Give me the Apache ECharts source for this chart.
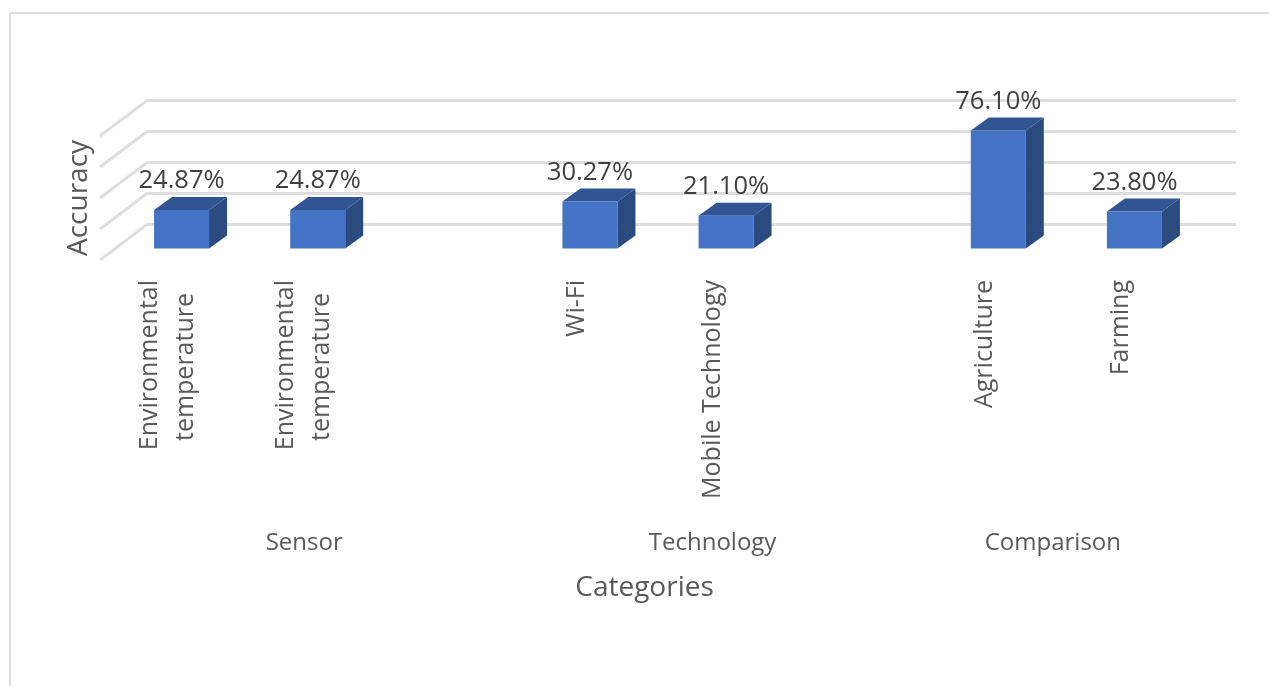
<!DOCTYPE html>
<html>
<head>
<meta charset="utf-8">
<title>Accuracy by category</title>
<script src="https://cdn.jsdelivr.net/npm/echarts@6/dist/echarts.min.js"></script>
<style>
html,body{margin:0;padding:0;background:#fff;}
#main{width:1269px;height:686px;}
</style>
</head>
<body>
<div id="main"></div>
<script>
// 数据
var categories = ['Environmental\ntemperature','Environmental\ntemperature','','Wi-Fi','Mobile Technology','','Agriculture','Farming'];
var accuracy = [24.87,24.87,null,30.27,21.10,null,76.10,23.80];
var groupNames = ['Sensor','Technology','Comparison'];
var groupFirst = [0,3,6];
var groupLast = [2,5,7];
var valueTicks = [0,20,40,60,80];

var fontName = '"Open Sans"';

// 假3D的偏移量: 前面 -> 后墙, 前面 -> 柱子正面, 柱子厚度
var wallDx = 47, wallDy = -35.5;
var barDx = 13.5, barDy = -11.5;
var sideDx = 18, sideDy = -13;

var barData = [];
for(var i=0;i<accuracy.length;i++){
	if(accuracy[i] != null){
		barData.push([i,accuracy[i]]);
	}
}
var wallData = valueTicks.map(function(t){ return [0,t]; });
var groupData = groupNames.map(function(n,i){ return [groupFirst[i],0,groupLast[i]]; });

function poly(points,color){
	return {type:'polygon',shape:{points:points},style:{fill:color}};
}

// 柱子: 正面 + 顶面 + 侧面 + 数值
function renderBar(params,api){
	var top = api.coord([api.value(0),api.value(1)]);
	var bottom = api.coord([api.value(0),0]);
	var w = api.size([1,0])[0]*0.404;
	var l = top[0]+barDx-w/2, r = l+w;
	var t = top[1]+barDy, b = bottom[1]+barDy;
	return {type:'group',children:[
		poly([[r,t],[r+sideDx,t+sideDy],[r+sideDx,b+sideDy],[r,b]],'#2a4a80'),
		poly([[l,t],[l+sideDx,t+sideDy],[r+sideDx,t+sideDy],[r,t]],'#315592'),
		poly([[l,t],[r,t],[r,b],[l,b]],'#4472c4'),
		{type:'text',style:{
			text:api.value(1).toFixed(2)+'%',x:(l+r)/2,y:t-29,
			align:'center',verticalAlign:'middle',
			fontFamily:fontName,fontSize:25.5,fill:'#404040'
		}}
	]};
}

// 背景线: 左侧斜线 + 后墙横线
function renderWall(params,api){
	var p = api.coord([0,api.value(1)]);
	var x0 = params.coordSys.x, x1 = x0+params.coordSys.width;
	return {type:'polyline',
		shape:{points:[[x0,p[1]],[x0+wallDx,p[1]+wallDy],[x1+wallDx,p[1]+wallDy]]},
		style:{stroke:'#dedede',lineWidth:3,fill:null}
	};
}

// 第二级分类标签, 放在该组首尾类目的中间
function renderGroup(params,api){
	var p0 = api.coord([api.value(0),0]);
	var p1 = api.coord([api.value(2),0]);
	return {type:'text',style:{
		text:groupNames[params.dataIndex],x:(p0[0]+p1[0])/2,y:543,
		align:'center',verticalAlign:'middle',
		fontFamily:fontName,fontSize:24,fill:'#595959'
	}};
}

var myChart = echarts.init(document.getElementById('main'));
myChart.setOption({
	animation:false,
	backgroundColor:'#fff',
	graphic:[
		{type:'line',shape:{x1:10,y1:13,x2:1269,y2:13},style:{stroke:'#dedede',lineWidth:2}},
		{type:'line',shape:{x1:10,y1:13,x2:10,y2:686},style:{stroke:'#dedede',lineWidth:2}}
	],
	grid:{left:100,top:136,width:1089,height:124},
	xAxis:{
		type:'category',
		data:categories,
		name:'Categories',
		nameLocation:'middle',
		nameGap:314,
		nameTextStyle:{fontFamily:fontName,fontSize:28,color:'#595959'},
		axisLine:{show:false},
		axisTick:{show:false},
		axisLabel:{
			interval:0,rotate:90,margin:20,
			fontFamily:fontName,fontSize:25,color:'#595959',lineHeight:36,
			formatter:function(v){
				// 第二行居中
				return v.indexOf('\n')>=0 ? v+'\u00a0\u00a0' : v;
			}
		}
	},
	yAxis:{
		type:'value',min:0,max:80,interval:20,
		name:'Accuracy',
		nameLocation:'middle',
		nameGap:7,
		nameTextStyle:{fontFamily:fontName,fontSize:28,color:'#595959'},
		axisLine:{show:false},
		axisTick:{show:false},
		axisLabel:{show:false},
		splitLine:{show:false}
	},
	series:[
		{type:'custom',name:'wall',data:wallData,renderItem:renderWall,silent:true,z:1},
		{type:'custom',name:'Accuracy',data:barData,renderItem:renderBar,z:2},
		{type:'custom',name:'group',data:groupData,renderItem:renderGroup,silent:true,z:2}
	]
});
</script>
</body>
</html>
